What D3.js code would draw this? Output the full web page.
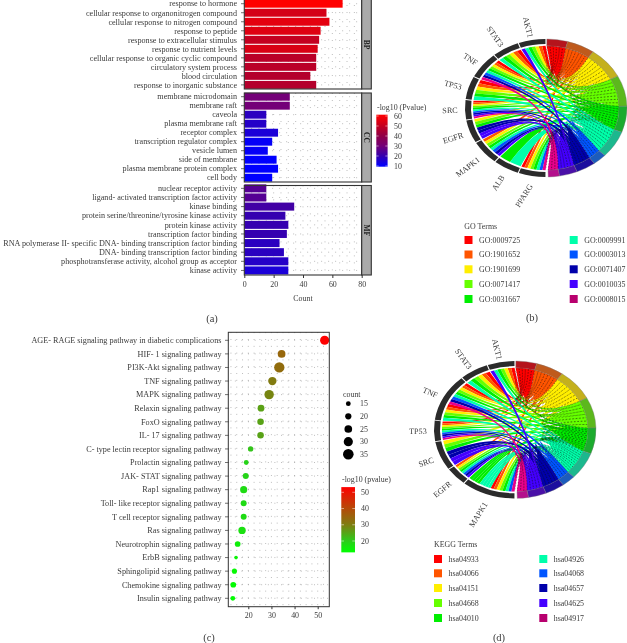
<!DOCTYPE html>
<html><head><meta charset="utf-8">
<script src="https://cdn.jsdelivr.net/npm/d3@7/dist/d3.min.js"></script>
<style>
html,body{margin:0;padding:0;background:#fff}
svg{display:block;filter:blur(0.35px)}
text{font-family:"Liberation Serif",serif;fill:#3a3a3a}
</style></head><body>
<svg id="c" width="627" height="643"></svg>
<script>
// ---------- Panel (a) data
const bpTerms=["response to hormone","cellular response to organonitrogen compound","cellular response to nitrogen compound","response to peptide","response to extracellular stimulus","response to nutrient levels","cellular response to organic cyclic compound","circulatory system process","blood circulation","response to inorganic substance"];
const bpCount=[67,56,58,52,51,50,49,49,45,49];
const bpP=[61,53,56,55,50,54,48,48,47,47];
const ccTerms=["membrane microdomain","membrane raft","caveola","plasma membrane raft","receptor complex","transcription regulator complex","vesicle lumen","side of membrane","plasma membrane protein complex","cell body"];
const ccCount=[31,31,15,15,23,19,16,22,23,19];
const ccP=[30,30,18,17,15,11,11,10,10,10];
const mfTerms=["nuclear receptor activity","ligand- activated transcription factor activity","kinase binding","protein serine/threonine/tyrosine kinase activity","protein kinase activity","transcription factor binding","RNA polymerase II- specific DNA- binding transcription factor binding","DNA- binding transcription factor binding","phosphotransferase activity, alcohol group as acceptor","kinase activity"];
const mfCount=[15,15,34,28,30,29,24,27,30,30];
const mfP=[25,25,22,20,20,20,18,18,17,15];
const countTicks=[0,20,40,60,80];
const pTicksA=[60,50,40,30,20,10];
// ---------- Panel (b)/(d) data
const goIds=["GO:0009725","GO:1901652","GO:1901699","GO:0071417","GO:0031667","GO:0009991","GO:0003013","GO:0071407","GO:0010035","GO:0008015"];
const keggIds=["hsa04933","hsa04066","hsa04151","hsa04668","hsa04010","hsa04926","hsa04068","hsa04657","hsa04625","hsa04917"];
const termSizes=[15,20,27,26,22,23,10,14,13,8];
const termColors=["#ff0000","#ff5500","#ffee00","#66ff00","#00ee00","#00ffaa","#0055ff","#0000aa","#4400ff","#b8006e"];
const ringColors=["#b5141c","#bf5a1c","#c4b01c","#5cb81c","#1cab2e","#1cb88e","#1c5cbc","#1c0e9e","#4a10a8","#b4108c"];
const ribbonColors=["#ff0000","#ff5500","#ffee00","#66ff00","#00ee00","#00ffaa","#0055ff","#0000aa","#4400ff","#e8008c"];
const genesB=["AKT1","STAT3","TNF","TP53","SRC","EGFR","MAPK1","ALB","PPARG"];
const geneSizesB=[20,20,23,20,17,20,21,19,20];
const linksB=[[8,5,4,3,2,1,0],[5,4,3,2,1,0],[9,7,6,5,4,3,2,1,0],[5,4,3,2,1,0],[9,8,7,6,5,4,3,2,1,0],[8,8,7,7,4,3,2],[8,7,6,5,4,3,2,1],[5,4],[9,6,5,4,3,2,1,0]];
const genesD=["AKT1","STAT3","TNF","TP53","SRC","EGFR","MAPK1"];
const geneSizesD=[20,21,41,18,25,16,39];
const linksD=[[8,5,4,3,2,1,0],[5,4,3,2,1,0],[5,4,3,2,1,0,9,7,6,5,4,3,2,1,0],[9,8,7,6,5,4,3,2,1,0],[8,8,7,7,4,3,2],[8,7,6,5,4,3,2,1],[9,6,5,4,3,2,1,0,5,5,5,5,4,4,4,4]];
// ---------- Panel (c) data
const pathways=["AGE- RAGE signaling pathway in diabetic complications","HIF- 1 signaling pathway","PI3K-Akt signaling pathway","TNF signaling pathway","MAPK signaling pathway","Relaxin signaling pathway","FoxO signaling pathway","IL- 17 signaling pathway","C- type lectin receptor signaling pathway","Prolactin signaling pathway","JAK- STAT signaling pathway","Rap1 signaling pathway","Toll- like receptor signaling pathway","T cell receptor signaling pathway","Ras signaling pathway","Neurotrophin signaling pathway","ErbB signaling pathway","Sphingolipid signaling pathway","Chemokine signaling pathway","Insulin signaling pathway"];
const pathLogP=[53,34.4,33.4,30.4,29,25.5,25.3,25.3,21,19.1,18.9,18,18,18,17.3,15.4,14.7,14,13.5,13.3];
const pathCount=[30,25,34,27,31,22,21,21,17,15,19,23,19,19,24,18,11,16,18,15];
const xTicksC=[20,30,40,50];
const sizeTicks=[15,20,25,30,35];
const pTicksC=[50,40,30,20];

const svg=d3.select("#c");
const defs=svg.append("defs");
const AX="#333";

function label(g,x,y,t,size,anchor){
  return g.append("text").attr("x",x).attr("y",y).attr("dy","0.34em").attr("text-anchor",anchor||"start").attr("font-size",size).text(t);
}
function gradient(id,scale,lo,hi){
  const gr=defs.append("linearGradient").attr("id",id).attr("x1",0).attr("x2",0).attr("y1",1).attr("y2",0);
  d3.range(0,1.001,0.05).forEach(t=>gr.append("stop").attr("offset",t).attr("stop-color",scale(lo+t*(hi-lo))));
}

// ========== (a)
const colorA=d3.scaleLinear().domain([10,20,30,40,50,61]).range(["#0000ff","#3500b0","#740078","#900048","#c40020","#ff0000"]);
const xA=d3.scaleLinear().domain([0,80]).range([244.3,361.7]);
const facets=[
 {n:"BP",t:bpTerms,c:bpCount,p:bpP,r0:-0.8,r1:89.4,f0:-2,f1:89},
 {n:"CC",t:ccTerms,c:ccCount,p:ccP,r0:92.2,r1:182.2,f0:93,f1:182},
 {n:"MF",t:mfTerms,c:mfCount,p:mfP,r0:183.8,r1:275,f0:185.5,f1:275}];
const gA=svg.append("g");
facets.forEach(f=>{
  const y=d3.scaleBand().domain(f.t).range([f.r0,f.r1]).paddingInner(0.12).paddingOuter(0.06);
  const g=gA.append("g");
  d3.range(5,80,5).forEach(v=>g.append("line").attr("x1",xA(v)).attr("x2",xA(v)).attr("y1",f.f0).attr("y2",f.f1).attr("stroke","#777").attr("stroke-width",.6).attr("stroke-dasharray","0.8 6.2"));
  f.t.forEach(t=>g.append("line").attr("x1",xA(0)).attr("x2",xA(80)).attr("y1",y(t)+y.bandwidth()/2).attr("y2",y(t)+y.bandwidth()/2).attr("stroke","#777").attr("stroke-width",.6).attr("stroke-dasharray","0.8 6.2"));
  g.selectAll("rect.b").data(f.t).join("rect").attr("class","b")
    .attr("x",xA(0)).attr("y",d=>y(d)).attr("height",y.bandwidth())
    .attr("width",(d,i)=>xA(f.c[i])-xA(0)).attr("fill",(d,i)=>colorA(f.p[i]));
  f.t.forEach(t=>{
    const m=y(t)+y.bandwidth()/2;
    g.append("line").attr("x1",241).attr("x2",244).attr("y1",m).attr("y2",m).attr("stroke",AX).attr("stroke-width",.7);
    label(g,237,m,t,8.15,"end");
  });
  g.append("rect").attr("x",xA(0)).attr("y",f.f0).attr("width",xA(80)-xA(0)).attr("height",f.f1-f.f0).attr("fill","none").attr("stroke",AX).attr("stroke-width",1.1);
  g.append("rect").attr("x",xA(80)).attr("y",f.f0).attr("width",9.6).attr("height",f.f1-f.f0).attr("fill","#aaa").attr("stroke",AX).attr("stroke-width",1.1);
  const mid=(Math.max(f.f0,0)+f.f1)/2;
  g.append("text").attr("transform",`translate(${xA(80)+4.9},${mid}) rotate(90)`).attr("text-anchor","middle").attr("dy","0.34em").attr("font-size",7.5).attr("font-weight","bold").style("fill","#222").text(f.n);
});
const axA=gA.append("g").attr("transform","translate(0,275)").call(d3.axisBottom(xA).tickValues(countTicks).tickSize(3).tickPadding(3));
axA.select(".domain").remove();
axA.selectAll("text").attr("font-size",7.9).attr("font-family",null);
axA.selectAll("line").attr("stroke",AX);
label(gA,303,298.5,"Count",7.9,"middle");
label(gA,212,318,"(a)",10.5,"middle");
const yLegA=d3.scaleLinear().domain([10,60]).range([166,116]);
gradient("gA",colorA,9.3,61.3);
gA.append("rect").attr("x",376.3).attr("y",yLegA(61.3)).attr("width",11.3).attr("height",yLegA(9.3)-yLegA(61.3)).attr("fill","url(#gA)");
label(gA,377,107.5,"-log10 (Pvalue)",7.9);
pTicksA.forEach(v=>{
  label(gA,394,yLegA(v),v,7.9);
  gA.append("line").attr("x1",376.3).attr("x2",378.6).attr("y1",yLegA(v)).attr("y2",yLegA(v)).attr("stroke","#fff").attr("stroke-width",.5);
  gA.append("line").attr("x1",385.3).attr("x2",387.6).attr("y1",yLegA(v)).attr("y2",yLegA(v)).attr("stroke","#fff").attr("stroke-width",.5);
});

// ========== chord (b)/(d)
const OX=8,OY=-6;
function ribbonPath(d){
  const pt=a=>[d.r*Math.sin(a),-d.r*Math.cos(a)];
  const alpha=0.28;
  const ctl=p=>[p[0]*alpha+OX,p[1]*alpha+OY];
  const s0=pt(d.s0),s1=pt(d.s1),t0=pt(d.t0),t1=pt(d.t1);
  const p=d3.path();
  p.moveTo(s0[0],s0[1]);
  p.arc(0,0,d.r,d.s0-Math.PI/2,d.s1-Math.PI/2);
  let a=ctl(s1),b=ctl(t0);
  p.bezierCurveTo(a[0],a[1],b[0],b[1],t0[0],t0[1]);
  p.arc(0,0,d.r,d.t0-Math.PI/2,d.t1-Math.PI/2);
  a=ctl(t1);b=ctl(s0);
  p.bezierCurveTo(a[0],a[1],b[0],b[1],s0[0],s0[1]);
  p.closePath();
  return p.toString();
}
function wedgePath(a0,a1,r,focus){
  const m=(a0+a1)/2, fx=Math.sin(m)*focus+OX, fy=-Math.cos(m)*focus+OY;
  const p=d3.path();
  p.moveTo(r*Math.sin(a0),-r*Math.cos(a0));
  p.arc(0,0,r,a0-Math.PI/2,a1-Math.PI/2);
  p.lineTo(fx,fy);
  p.closePath();
  return p.toString();
}
function chord(id,cx,cy,rx,ry,genes,geneSizes,links){
  const k=ry/rx, R=rx, rRib=73, rArcIn=75;
  const root=svg.append("g");
  const g=root.append("g").attr("transform",`translate(${cx},${cy}) scale(1,${k})`);
  const rad=d=>d*Math.PI/180;
  const gScale=d3.scaleLinear().domain([0,d3.sum(geneSizes)]).range([0,180]);
  const tScale=d3.scaleLinear().domain([0,d3.sum(termSizes)]).range([0.6,178.4]);
  let acc=0;
  const gSpan=geneSizes.map(s=>{const a=gScale(acc),b=gScale(acc+s);acc+=s;return [a,b];});
  acc=0;
  const tSpan=termSizes.map(s=>{const a=tScale(acc),b=tScale(acc+s);acc+=s;return [a,b];});
  const termCount=termSizes.map(()=>0);
  links.forEach(l=>l.forEach(t=>termCount[t]++));
  const used=termSizes.map(()=>0);
  const ribs=[];
  links.forEach((l,gi)=>{
    const [a,b]=gSpan[gi];
    const step=(b-a-0.7)/l.length;
    l.forEach((t,j)=>{
      const s0=-(b-0.35)+j*step, s1=s0+step;
      const w=(tSpan[t][1]-tSpan[t][0])/termCount[t];
      const t0=tSpan[t][0]+used[t]*w; used[t]++;
      ribs.push({t,r:rRib,s0:rad(s0),s1:rad(s1),t0:rad(t0),t1:rad(t0+w)});
    });
  });
  ribs.sort((p,q)=>p.t-q.t);
  // solid fan of each term, under its ribbons
  g.selectAll("path.w").data(tSpan).join("path").attr("class","w")
    .attr("d",d=>wedgePath(rad(d[0]),rad(d[1]),rRib,24)).attr("fill",(d,i)=>ribbonColors[i]);
  g.selectAll("path.r").data(ribs).join("path").attr("class","r").attr("d",ribbonPath).attr("fill",d=>ribbonColors[d.t]);
  const arc=d3.arc();
  defs.append("clipPath").attr("id",id+"clip").append("path")
    .attr("d",arc({innerRadius:28,outerRadius:rRib,startAngle:0,endAngle:Math.PI}));
  g.append("g").attr("clip-path",`url(#${id}clip)`).selectAll("path").data(ribs).join("path")
    .attr("d",ribbonPath).attr("fill","none").attr("stroke","#111").attr("stroke-width",.45).attr("stroke-dasharray","1.6 1.8").attr("stroke-opacity",.75);
  g.selectAll("path.t").data(tSpan).join("path").attr("class","t")
    .attr("d",d=>arc({innerRadius:rRib,outerRadius:R,startAngle:rad(d[0]),endAngle:rad(d[1])}))
    .attr("fill",(d,i)=>ringColors[i]).attr("stroke","#777").attr("stroke-width",.4);
  g.selectAll("path.g").data(gSpan).join("path").attr("class","g")
    .attr("d",d=>arc({innerRadius:rArcIn,outerRadius:R,startAngle:rad(-d[0]-0.4),endAngle:rad(-d[1]+0.4)}))
    .attr("fill","#2b2b2b");
  genes.forEach((n,i)=>{
    const m=rad(-(gSpan[i][0]+gSpan[i][1])/2);
    const dx=Math.sin(m)*rx*1.09, dy=-Math.cos(m)*ry*(Math.cos(m)>0?1.04:1.13);
    let rot=Math.atan2(dy,dx)*180/Math.PI-180; if(rot<-180)rot+=360;
    rot=Math.max(-58,Math.min(76,rot>180?rot-360:rot));
    root.append("text").attr("transform",`translate(${cx+dx},${cy+dy}) rotate(${rot})`).attr("text-anchor","end").attr("dy","0.34em").attr("font-size",8.2).text(n);
  });
}
function termLegend(title,ids,tx,ty,cols,ys){
  const g=svg.append("g");
  label(g,tx,ty,title,7.9);
  ids.forEach((d,i)=>{
    const col=i<5?0:1, row=i%5;
    g.append("rect").attr("x",cols[col]).attr("y",ys[row]-4).attr("width",8).attr("height",8).attr("fill",termColors[i]);
    label(g,cols[col]+14.5,ys[row],d,7.9);
  });
}
chord("b",546,108,81,69,genesB,geneSizesB,linksB);
termLegend("GO Terms",goIds,464.3,226.5,[464.5,569.7],[240,254.5,269.3,284,299]);
label(svg,532,317.5,"(b)",10.5,"middle");
chord("d",515,429.7,81,68.7,genesD,geneSizesD,linksD);
termLegend("KEGG Terms",keggIds,434,544,[434,539.3],[559,573.3,588,603,618]);
label(svg,499,637,"(d)",10.5,"middle");

// ========== (c)
const xC=d3.scaleLinear().domain([20,50]).range([248.3,317.7]);
const yC=d3.scalePoint().domain(pathways).range([340.3,598.3]);
const L=228.3,Rt=329.3,T=332.3,B=606.7;
const colorC=d3.scaleLinear().domain([13,20,30,40,53.2]).range(["#00ff00","#2ccc1c","#7f7d10","#b54a08","#ff0000"]);
const rC=d3.scaleLinear().domain([15,35]).range([2.4,5.3]);
const gC=svg.append("g");
d3.range(12.5,55,2.5).forEach(v=>gC.append("line").attr("x1",xC(v)).attr("x2",xC(v)).attr("y1",T).attr("y2",B).attr("stroke","#777").attr("stroke-width",.6).attr("stroke-dasharray","0.8 6"));
pathways.forEach(p=>gC.append("line").attr("x1",L).attr("x2",Rt).attr("y1",yC(p)).attr("y2",yC(p)).attr("stroke","#777").attr("stroke-width",.6).attr("stroke-dasharray","0.8 5.8"));
gC.selectAll("circle.p").data(pathways).join("circle").attr("class","p")
  .attr("cx",(d,i)=>xC(pathLogP[i])).attr("cy",d=>yC(d)).attr("r",(d,i)=>rC(pathCount[i])).attr("fill",(d,i)=>colorC(pathLogP[i]));
gC.append("rect").attr("x",L).attr("y",T).attr("width",Rt-L).attr("height",B-T).attr("fill","none").attr("stroke",AX).attr("stroke-width",1);
pathways.forEach(p=>{
  gC.append("line").attr("x1",225).attr("x2",L).attr("y1",yC(p)).attr("y2",yC(p)).attr("stroke",AX).attr("stroke-width",.7);
  label(gC,221.5,yC(p),p,8.2,"end");
});
const axC=gC.append("g").attr("transform",`translate(0,${B})`).call(d3.axisBottom(xC).tickValues(xTicksC).tickSize(2.5).tickPadding(3));
axC.select(".domain").remove();
axC.selectAll("text").attr("font-size",7.9).attr("font-family",null);
axC.selectAll("line").attr("stroke",AX);
label(gC,209,637,"(c)",10.5,"middle");
label(gC,343,394,"count",7.9);
const yCnt=d3.scalePoint().domain(sizeTicks).range([403.7,454.3]);
sizeTicks.forEach(v=>{
  gC.append("circle").attr("cx",348.3).attr("cy",yCnt(v)).attr("r",rC(v)).attr("fill","#000");
  label(gC,360,yCnt(v),v,7.9);
});
label(gC,342,479.7,"-log10 (pvalue)",7.9);
const yLegC=d3.scaleLinear().domain([20,50]).range([541,492.3]);
gradient("gC",colorC,13,53.2);
gC.append("rect").attr("x",341.3).attr("y",yLegC(53.2)).attr("width",13.7).attr("height",yLegC(13)-yLegC(53.2)).attr("fill","url(#gC)");
pTicksC.forEach(v=>{
  label(gC,361,yLegC(v),v,7.9);
  gC.append("line").attr("x1",341.3).attr("x2",344).attr("y1",yLegC(v)).attr("y2",yLegC(v)).attr("stroke","#fff").attr("stroke-width",.5);
  gC.append("line").attr("x1",352.3).attr("x2",355).attr("y1",yLegC(v)).attr("y2",yLegC(v)).attr("stroke","#fff").attr("stroke-width",.5);
});
</script>
</body></html>
